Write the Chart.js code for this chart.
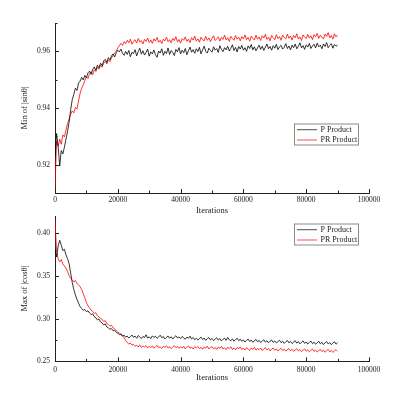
<!DOCTYPE html>
<html><head><meta charset="utf-8">
<script src="https://cdn.jsdelivr.net/npm/chart.js@4.4.1/dist/chart.umd.min.js"></script>
<style>
html,body{margin:0;padding:0;background:#fff;width:403px;height:403px;overflow:hidden}
.c{position:absolute;left:0}
</style></head><body>
<div class="c" style="top:0;width:403px;height:220px"><canvas id="topChart" width="403" height="220"></canvas></div>
<div class="c" style="top:200px;width:403px;height:190px"><canvas id="botChart" width="403" height="190"></canvas></div>
<script>
const iterations = [
0,500,1000,1500,2000,2500,3000,3500,4000,4500,
5000,5500,6000,6500,7000,7500,8000,8500,9000,9500,
10000,10500,11000,11500,12000,12500,13000,13500,14000,14500,
15000,15500,16000,16500,17000,17500,18000,18500,19000,19500,
20000,20500,21000,21500,22000,22500,23000,23500,24000,24500,
25000,25500,26000,26500,27000,27500,28000,28500,29000,29500,
30000,30500,31000,31500,32000,32500,33000,33500,34000,34500,
35000,35500,36000,36500,37000,37500,38000,38500,39000,39500,
40000,40500,41000,41500,42000,42500,43000,43500,44000,44500,
45000,45500,46000,46500,47000,47500,48000,48500,49000,49500,
50000,50500,51000,51500,52000,52500,53000,53500,54000,54500,
55000,55500,56000,56500,57000,57500,58000,58500,59000,59500,
60000,60500,61000,61500,62000,62500,63000,63500,64000,64500,
65000,65500,66000,66500,67000,67500,68000,68500,69000,69500,
70000,70500,71000,71500,72000,72500,73000,73500,74000,74500,
75000,75500,76000,76500,77000,77500,78000,78500,79000,79500,
80000,80500,81000,81500,82000,82500,83000,83500,84000,84500,
85000,85500,86000,86500,87000,87500,88000,88500,89000,89500,
90000];

const pProductMin = [
0.9220,0.9310,0.9265,0.9195,0.9250,0.9238,0.9262,0.9290,0.9318,0.9350,
0.9395,0.9430,0.9448,0.9470,0.9462,0.9488,0.9495,0.9508,0.9499,0.9515,
0.9507,0.9524,0.9530,0.9519,0.9536,0.9545,0.9533,0.9551,0.9542,0.9558,
0.9549,0.9566,0.9572,0.9561,0.9578,0.9570,0.9584,0.9591,0.9580,0.9595,
0.9604,0.9598,0.9608,0.9593,0.9586,0.9600,0.9589,0.9603,0.9581,0.9597,
0.9592,0.9606,0.9584,0.9599,0.9611,0.9590,0.9602,0.9587,0.9596,0.9608,
0.9583,0.9598,0.9591,0.9605,0.9588,0.9579,0.9601,0.9594,0.9609,0.9586,
0.9600,0.9592,0.9612,0.9589,0.9603,0.9596,0.9585,0.9607,0.9598,0.9613,
0.9591,0.9604,0.9595,0.9610,0.9588,0.9602,0.9615,0.9597,0.9606,0.9593,
0.9609,0.9599,0.9614,0.9591,0.9605,0.9618,0.9600,0.9594,0.9611,0.9603,
0.9597,0.9616,0.9604,0.9610,0.9596,0.9620,0.9607,0.9599,0.9613,0.9605,
0.9618,0.9601,0.9611,0.9623,0.9603,0.9614,0.9598,0.9617,0.9608,0.9621,
0.9604,0.9613,0.9600,0.9619,0.9610,0.9624,0.9605,0.9616,0.9602,0.9612,
0.9622,0.9607,0.9618,0.9603,0.9615,0.9626,0.9609,0.9617,0.9604,0.9620,
0.9611,0.9625,0.9606,0.9616,0.9621,0.9608,0.9614,0.9627,0.9610,0.9619,
0.9605,0.9622,0.9613,0.9626,0.9609,0.9618,0.9630,0.9612,0.9620,0.9607,
0.9623,0.9615,0.9628,0.9610,0.9619,0.9625,0.9612,0.9629,0.9616,0.9622,
0.9609,0.9626,0.9617,0.9631,0.9613,0.9621,0.9627,0.9611,0.9624,0.9618,
0.9622];

const prProductMin = [
0.9120,0.9282,0.9265,0.9290,0.9272,0.9305,0.9298,0.9322,0.9345,0.9362,
0.9378,0.9390,0.9383,0.9402,0.9396,0.9425,0.9452,0.9470,0.9482,0.9497,
0.9510,0.9504,0.9521,0.9528,0.9517,0.9535,0.9529,0.9543,0.9537,0.9550,
0.9544,0.9558,0.9565,0.9555,0.9570,0.9564,0.9577,0.9586,0.9594,0.9601,
0.9612,0.9620,0.9628,0.9621,0.9634,0.9627,0.9639,0.9630,0.9643,0.9625,
0.9636,0.9641,0.9629,0.9645,0.9633,0.9638,0.9626,0.9642,0.9635,0.9647,
0.9631,0.9640,0.9628,0.9644,0.9636,0.9649,0.9632,0.9639,0.9627,0.9643,
0.9637,0.9650,0.9634,0.9641,0.9630,0.9646,0.9638,0.9652,0.9633,0.9642,
0.9629,0.9645,0.9639,0.9651,0.9635,0.9643,0.9631,0.9648,0.9640,0.9654,
0.9636,0.9644,0.9632,0.9650,0.9641,0.9637,0.9653,0.9639,0.9647,0.9634,
0.9646,0.9655,0.9638,0.9644,0.9651,0.9636,0.9649,0.9642,0.9657,0.9640,
0.9648,0.9635,0.9653,0.9645,0.9639,0.9656,0.9643,0.9650,0.9637,0.9652,
0.9644,0.9658,0.9641,0.9649,0.9636,0.9654,0.9646,0.9640,0.9657,0.9643,
0.9651,0.9638,0.9655,0.9647,0.9660,0.9642,0.9650,0.9637,0.9656,0.9648,
0.9641,0.9659,0.9645,0.9652,0.9639,0.9657,0.9649,0.9644,0.9661,0.9646,
0.9654,0.9640,0.9656,0.9648,0.9662,0.9643,0.9651,0.9638,0.9658,0.9650,
0.9645,0.9660,0.9647,0.9655,0.9641,0.9659,0.9652,0.9663,0.9646,0.9657,
0.9649,0.9644,0.9661,0.9653,0.9666,0.9648,0.9656,0.9643,0.9662,0.9651,
0.9658];

const pProductMax = [
0.3800,0.3720,0.3850,0.3915,0.3860,0.3795,0.3810,0.3745,0.3700,0.3640,
0.3530,0.3420,0.3340,0.3275,0.3225,0.3180,0.3140,0.3115,0.3098,0.3105,
0.3082,0.3090,0.3065,0.3048,0.3055,0.3022,0.3010,0.2985,0.2994,0.2962,
0.2948,0.2925,0.2938,0.2902,0.2890,0.2875,0.2882,0.2856,0.2863,0.2840,
0.2828,0.2812,0.2820,0.2796,0.2805,0.2783,0.2795,0.2772,0.2788,0.2808,
0.2780,0.2795,0.2770,0.2802,0.2784,0.2766,0.2791,0.2777,0.2810,0.2772,
0.2786,0.2765,0.2798,0.2779,0.2793,0.2768,0.2785,0.2805,0.2775,0.2790,
0.2762,0.2781,0.2796,0.2770,0.2788,0.2760,0.2782,0.2799,0.2773,0.2785,
0.2766,0.2790,0.2774,0.2758,0.2783,0.2769,0.2795,0.2761,0.2778,0.2752,
0.2770,0.2748,0.2766,0.2783,0.2755,0.2772,0.2745,0.2763,0.2778,0.2750,
0.2768,0.2742,0.2760,0.2775,0.2748,0.2766,0.2738,0.2757,0.2772,0.2745,
0.2780,0.2752,0.2740,0.2763,0.2735,0.2754,0.2770,0.2741,0.2758,0.2733,
0.2750,0.2726,0.2744,0.2760,0.2731,0.2748,0.2722,0.2740,0.2756,0.2728,
0.2745,0.2719,0.2737,0.2752,0.2724,0.2741,0.2716,0.2735,0.2749,0.2721,
0.2738,0.2714,0.2731,0.2746,0.2718,0.2735,0.2710,0.2729,0.2744,0.2715,
0.2733,0.2708,0.2726,0.2741,0.2712,0.2730,0.2704,0.2723,0.2739,0.2709,
0.2727,0.2702,0.2720,0.2736,0.2706,0.2724,0.2699,0.2718,0.2734,0.2705,
0.2722,0.2696,0.2716,0.2731,0.2703,0.2719,0.2695,0.2713,0.2729,0.2700,
0.2718];

const prProductMax = [
0.4150,0.3780,0.3700,0.3665,0.3690,0.3640,0.3615,0.3590,0.3552,0.3500,
0.3470,0.3452,0.3430,0.3445,0.3410,0.3395,0.3372,0.3340,0.3290,0.3240,
0.3190,0.3150,0.3125,0.3098,0.3085,0.3060,0.3068,0.3035,0.3018,0.3002,
0.2990,0.2965,0.2975,0.2942,0.2930,0.2912,0.2922,0.2890,0.2878,0.2860,
0.2842,0.2830,0.2812,0.2798,0.2775,0.2745,0.2720,0.2702,0.2715,0.2690,
0.2698,0.2676,0.2688,0.2668,0.2692,0.2661,0.2679,0.2666,0.2684,0.2657,
0.2674,0.2662,0.2680,0.2652,0.2671,0.2687,0.2659,0.2669,0.2650,0.2676,
0.2663,0.2681,0.2655,0.2670,0.2648,0.2667,0.2683,0.2658,0.2673,0.2651,
0.2669,0.2654,0.2676,0.2646,0.2662,0.2680,0.2653,0.2665,0.2644,0.2671,
0.2657,0.2674,0.2648,0.2663,0.2641,0.2668,0.2652,0.2677,0.2645,0.2660,
0.2672,0.2647,0.2661,0.2639,0.2666,0.2650,0.2675,0.2643,0.2658,0.2636,
0.2664,0.2648,0.2670,0.2640,0.2655,0.2635,0.2662,0.2646,0.2668,0.2638,
0.2653,0.2632,0.2659,0.2644,0.2628,0.2656,0.2640,0.2663,0.2631,0.2648,
0.2636,0.2657,0.2625,0.2645,0.2660,0.2633,0.2650,0.2622,0.2642,0.2655,
0.2629,0.2646,0.2620,0.2638,0.2652,0.2626,0.2641,0.2618,0.2637,0.2649,
0.2624,0.2640,0.2616,0.2633,0.2648,0.2621,0.2637,0.2613,0.2630,0.2645,
0.2618,0.2635,0.2611,0.2628,0.2643,0.2615,0.2632,0.2608,0.2625,0.2640,
0.2613,0.2631,0.2606,0.2624,0.2639,0.2610,0.2627,0.2604,0.2622,0.2636,
0.2617];

const seriesLabels = ['P Product', 'PR Product'];
const xTickValues = [0, 20000, 40000, 60000, 80000, 100000];
const xMinorValues = [10000, 30000, 50000, 70000, 90000];
const minYTicks = [0.92, 0.94, 0.96];
const minYMinor = [0.93, 0.95, 0.97];
const maxYTicks = [0.25, 0.30, 0.35, 0.40];
const maxYMinor = [0.275, 0.325, 0.375];

const FONT = '"Liberation Serif","Times New Roman",serif';
const INK = '#1a1a1a';

const axisTicks = {
  id: 'axisTicks',
  afterDraw(chart, args, o) {
    const {ctx, chartArea: a, scales: {x, y}} = chart;
    ctx.save();
    ctx.strokeStyle = '#222';
    ctx.lineWidth = 1;
    const vx = (vals, len) => vals.forEach(v => {
      const px = Math.round(x.getPixelForValue(v)) + 0.5;
      ctx.beginPath(); ctx.moveTo(px, a.bottom); ctx.lineTo(px, a.bottom - len); ctx.stroke();
    });
    const vy = (vals, len) => vals.forEach(v => {
      const py = Math.round(y.getPixelForValue(v)) + 0.5;
      ctx.beginPath(); ctx.moveTo(a.left, py); ctx.lineTo(a.left + len, py); ctx.stroke();
    });
    vx(o.xMajor, 4); vx(o.xMinor, 2.5);
    vy(o.yMajor, 4); vy(o.yMinor, 2.5);
    ctx.restore();
  }
};

const boxLegend = {
  id: 'boxLegend',
  afterDraw(chart, args, o) {
    const ctx = chart.ctx;
    ctx.save();
    ctx.fillStyle = '#fff';
    ctx.fillRect(o.x, o.y, o.w, o.h);
    ctx.strokeStyle = '#8a8a8a';
    ctx.lineWidth = 1;
    ctx.strokeRect(o.x + 0.5, o.y + 0.5, o.w, o.h);
    ctx.font = '8px ' + FONT;
    ctx.textBaseline = 'middle';
    ctx.textAlign = 'left';
    chart.data.datasets.forEach((ds, i) => {
      const yy = o.y + o.rows[i];
      ctx.strokeStyle = ds.borderColor;
      ctx.lineWidth = 0.7;
      ctx.beginPath(); ctx.moveTo(o.x + 3, yy + 0.5); ctx.lineTo(o.x + 23, yy + 0.5); ctx.stroke();
      ctx.fillStyle = INK;
      ctx.fillText(ds.label, o.x + 26.5, yy + 0.5);
    });
    ctx.restore();
  }
};

function makeChart(id, cfg) {
  const toXY = arr => arr.map((v, i) => ({x: iterations[i], y: v}));
  return new Chart(document.getElementById(id), {
    type: 'line',
    data: {
      datasets: [
        {label: seriesLabels[0], data: toXY(cfg.black), borderColor: '#000000', borderWidth: 0.8, pointRadius: 0, tension: 0, fill: false},
        {label: seriesLabels[1], data: toXY(cfg.red), borderColor: '#ff0000', borderWidth: 0.8, pointRadius: 0, tension: 0, fill: false}
      ]
    },
    options: {
      responsive: false,
      animation: false,
      events: [],
      layout: {padding: {top: cfg.padTop, right: 34, left: 0, bottom: 0}},
      plugins: {
        legend: {display: false},
        tooltip: {enabled: false},
        axisTicks: {xMajor: xTickValues, xMinor: xMinorValues, yMajor: cfg.yTicks, yMinor: cfg.yMinor},
        boxLegend: {x: 294, y: cfg.legendY, w: 64, h: 21, rows: [5.7, 16]}
      },
      scales: {
        x: {
          type: 'linear', min: 0, max: 100000,
          grid: {display: false, drawTicks: false},
          border: {display: true, color: '#222', width: 1},
          afterBuildTicks: s => { s.ticks = xTickValues.map(v => ({value: v})); },
          afterFit: s => { s.height = cfg.xHeight; },
          ticks: {autoSkip: false, maxRotation: 0, padding: cfg.xTickPad, color: INK, font: {family: FONT, size: 7.5}, callback: v => String(v)},
          title: {display: true, text: 'Iterations', color: INK, font: {family: FONT, size: 8.5}, padding: {top: 0, bottom: cfg.xTitlePad}}
        },
        y: {
          type: 'linear', min: cfg.yMin, max: cfg.yMax,
          grid: {display: false, drawTicks: false},
          border: {display: true, color: '#222', width: 1},
          afterBuildTicks: s => { s.ticks = cfg.yTicks.map(v => ({value: v})); },
          afterFit: s => { s.width = 55; },
          ticks: {autoSkip: false, padding: 5, color: INK, font: {family: FONT, size: 7.5}, callback: v => v.toFixed(2)},
          title: {display: true, text: cfg.yTitle, color: INK, font: {family: FONT, size: 8.5}, padding: {top: 19.9, bottom: 0}}
        }
      }
    },
    plugins: [axisTicks, boxLegend]
  });
}

makeChart('topChart', {
  black: pProductMin, red: prProductMin,
  yMin: 0.91, yMax: 0.97, yTicks: minYTicks, yMinor: minYMinor,
  yTitle: 'Min of |sinθ|',
  padTop: 23, xHeight: 27, xTickPad: 2.5, xTitlePad: 4.4, legendY: 123.5
});
makeChart('botChart', {
  black: pProductMax, red: prProductMax,
  yMin: 0.25, yMax: 0.42, yTicks: maxYTicks, yMinor: maxYMinor,
  yTitle: 'Max of |cosθ|',
  padTop: 16, xHeight: 28.7, xTickPad: 4.7, xTitlePad: 6.9, legendY: 23.5
});
</script>
</body></html>
